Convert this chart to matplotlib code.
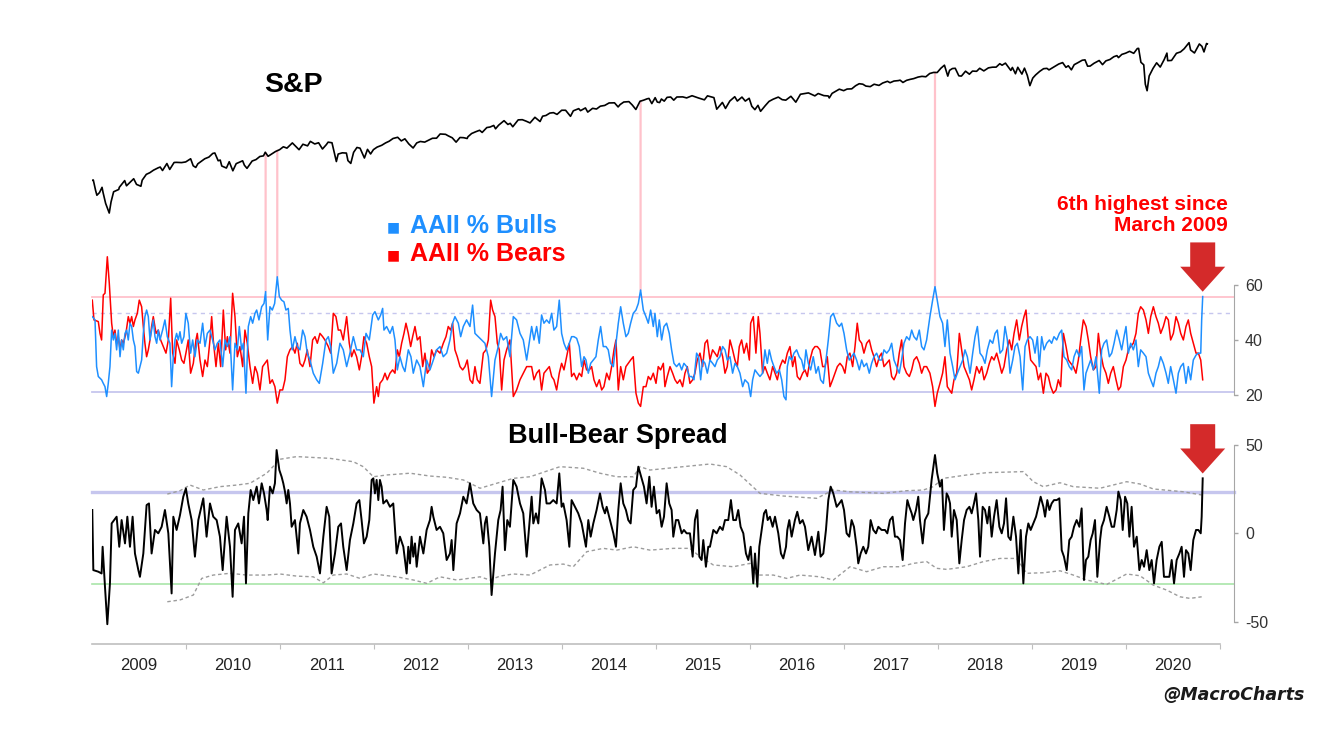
import numpy as np
import pandas as pd
import matplotlib
matplotlib.use('Agg')
import matplotlib.pyplot as plt
from matplotlib.patches import ConnectionPatch

# S&P 500 (date, close)
sp_pts = [
    ('2009-01-02', 931.8), ('2009-01-06', 934.7), ('2009-01-15', 843.7), ('2009-01-20', 805.2), ('2009-01-30', 825.9),
    ('2009-02-09', 869.9), ('2009-02-13', 826.8), ('2009-02-23', 743.3), ('2009-03-09', 676.5), ('2009-03-16', 753.9),
    ('2009-03-26', 832.9), ('2009-04-15', 852.1), ('2009-04-17', 869.6), ('2009-05-08', 929.2), ('2009-05-15', 882.9),
    ('2009-06-12', 946.2), ('2009-06-23', 895.1), ('2009-07-10', 879.1), ('2009-07-15', 932.7), ('2009-07-31', 987.5),
    ('2009-08-14', 1004.1), ('2009-08-28', 1028.9), ('2009-09-15', 1052.6), ('2009-09-23', 1060.9), ('2009-10-02', 1025.2),
    ('2009-10-19', 1097.9), ('2009-10-30', 1036.2), ('2009-11-16', 1109.3), ('2009-11-25', 1110.6), ('2009-12-15', 1107.9),
    ('2009-12-31', 1115.1), ('2010-01-19', 1150.2), ('2010-01-29', 1073.9), ('2010-02-08', 1056.7), ('2010-02-16', 1094.9),
    ('2010-03-15', 1150.5), ('2010-03-31', 1169.4), ('2010-04-15', 1211.7), ('2010-04-23', 1217.3), ('2010-05-06', 1128.2),
    ('2010-05-14', 1135.7), ('2010-05-20', 1071.6), ('2010-06-07', 1050.5), ('2010-06-18', 1117.5), ('2010-07-02', 1022.6),
    ('2010-07-15', 1096.5), ('2010-08-09', 1127.8), ('2010-08-16', 1079.4), ('2010-08-26', 1047.2), ('2010-09-15', 1125.1),
    ('2010-09-30', 1141.2), ('2010-10-15', 1176.2), ('2010-10-29', 1183.3), ('2010-11-05', 1225.9), ('2010-11-16', 1178.3),
    ('2010-12-15', 1235.2), ('2010-12-31', 1257.6), ('2011-01-14', 1293.2), ('2011-01-28', 1276.3), ('2011-02-18', 1343.0),
    ('2011-03-01', 1306.3), ('2011-03-16', 1256.9), ('2011-03-31', 1325.8), ('2011-04-18', 1305.1), ('2011-04-29', 1363.6),
    ('2011-05-16', 1329.5), ('2011-05-31', 1345.2), ('2011-06-15', 1265.4), ('2011-06-30', 1320.6), ('2011-07-07', 1353.2),
    ('2011-07-22', 1345.0), ('2011-08-08', 1119.5), ('2011-08-15', 1204.5), ('2011-08-31', 1219.0), ('2011-09-16', 1216.0),
    ('2011-09-22', 1129.6), ('2011-10-03', 1099.2), ('2011-10-14', 1224.6), ('2011-10-27', 1284.6), ('2011-11-08', 1275.9),
    ('2011-11-25', 1158.7), ('2011-12-07', 1261.0), ('2011-12-19', 1205.4), ('2011-12-30', 1257.6), ('2012-01-13', 1289.1),
    ('2012-01-31', 1312.4), ('2012-02-15', 1343.2), ('2012-02-29', 1365.7), ('2012-03-15', 1402.6), ('2012-04-02', 1419.0),
    ('2012-04-16', 1369.6), ('2012-04-30', 1397.9), ('2012-05-15', 1330.7), ('2012-06-01', 1278.0), ('2012-06-15', 1342.8),
    ('2012-06-29', 1362.2), ('2012-07-16', 1353.6), ('2012-07-31', 1379.3), ('2012-08-15', 1405.5), ('2012-08-31', 1406.6),
    ('2012-09-14', 1465.8), ('2012-10-05', 1460.9), ('2012-10-15', 1440.1), ('2012-10-31', 1412.2), ('2012-11-15', 1353.3),
    ('2012-11-30', 1416.2), ('2012-12-14', 1413.6), ('2012-12-28', 1402.4), ('2012-12-31', 1426.2), ('2013-01-15', 1472.3),
    ('2013-01-31', 1498.1), ('2013-02-15', 1519.8), ('2013-02-25', 1487.9), ('2013-03-15', 1560.7), ('2013-03-28', 1569.2),
    ('2013-04-11', 1593.4), ('2013-04-18', 1541.6), ('2013-04-30', 1597.6), ('2013-05-21', 1669.2), ('2013-06-05', 1608.9),
    ('2013-06-14', 1626.7), ('2013-06-24', 1573.1), ('2013-07-15', 1682.5), ('2013-07-31', 1685.7), ('2013-08-15', 1661.3),
    ('2013-08-30', 1633.0), ('2013-09-18', 1725.5), ('2013-10-08', 1655.5), ('2013-10-18', 1744.5), ('2013-10-31', 1756.5),
    ('2013-11-15', 1798.2), ('2013-11-29', 1805.8), ('2013-12-13', 1775.3), ('2013-12-31', 1848.4), ('2014-01-15', 1848.4),
    ('2014-02-03', 1741.9), ('2014-02-14', 1838.6), ('2014-03-07', 1878.0), ('2014-03-14', 1841.1), ('2014-04-02', 1890.9),
    ('2014-04-11', 1815.7), ('2014-04-30', 1883.9), ('2014-05-15', 1870.9), ('2014-05-30', 1923.6), ('2014-06-16', 1937.8),
    ('2014-07-03', 1985.4), ('2014-07-24', 1988.0), ('2014-08-07', 1909.6), ('2014-08-15', 1955.1), ('2014-08-29', 2003.4),
    ('2014-09-18', 2011.4), ('2014-10-01', 1946.2), ('2014-10-15', 1862.5), ('2014-10-31', 2018.1), ('2014-11-14', 2039.8),
    ('2014-11-28', 2067.6), ('2014-12-05', 2075.4), ('2014-12-16', 1972.7), ('2014-12-29', 2090.6), ('2015-01-06', 2002.6),
    ('2015-01-15', 1992.7), ('2015-01-22', 2063.2), ('2015-02-02', 2020.9), ('2015-02-13', 2096.9), ('2015-02-27', 2104.5),
    ('2015-03-11', 2040.2), ('2015-03-23', 2104.4), ('2015-04-15', 2106.6), ('2015-04-30', 2085.5), ('2015-05-21', 2130.8),
    ('2015-06-15', 2084.4), ('2015-07-08', 2046.7), ('2015-07-20', 2128.3), ('2015-08-14', 2091.5), ('2015-08-25', 1867.6),
    ('2015-09-16', 1995.3), ('2015-09-28', 1881.8), ('2015-10-15', 2023.9), ('2015-11-03', 2109.8), ('2015-11-13', 2023.0),
    ('2015-12-01', 2102.6), ('2015-12-14', 2021.9), ('2015-12-29', 2078.4), ('2016-01-08', 1922.0), ('2016-01-20', 1859.3),
    ('2016-02-01', 1939.4), ('2016-02-11', 1829.1), ('2016-02-29', 1932.2), ('2016-03-15', 2015.9), ('2016-03-31', 2059.7),
    ('2016-04-20', 2102.4), ('2016-05-05', 2050.6), ('2016-05-19', 2040.0), ('2016-06-08', 2119.1), ('2016-06-27', 2000.5),
    ('2016-07-15', 2161.7), ('2016-07-29', 2173.6), ('2016-08-15', 2190.2), ('2016-09-09', 2127.8), ('2016-09-22', 2177.2),
    ('2016-10-14', 2132.9), ('2016-10-31', 2126.2), ('2016-11-04', 2085.2), ('2016-11-15', 2180.4), ('2016-12-13', 2271.7),
    ('2016-12-30', 2238.8), ('2017-01-13', 2274.6), ('2017-01-31', 2278.9), ('2017-02-15', 2349.3), ('2017-03-01', 2396.0),
    ('2017-03-15', 2385.3), ('2017-03-27', 2341.6), ('2017-04-13', 2329.0), ('2017-04-28', 2384.2), ('2017-05-17', 2357.0),
    ('2017-05-31', 2411.8), ('2017-06-19', 2453.5), ('2017-06-29', 2419.7), ('2017-07-14', 2459.3), ('2017-07-31', 2470.3),
    ('2017-08-07', 2480.9), ('2017-08-18', 2425.6), ('2017-09-01', 2476.6), ('2017-09-15', 2500.2), ('2017-09-29', 2519.4),
    ('2017-10-16', 2557.6), ('2017-10-31', 2575.3), ('2017-11-15', 2564.6), ('2017-11-30', 2647.6), ('2017-12-15', 2675.8),
    ('2017-12-29', 2673.6), ('2018-01-12', 2786.2), ('2018-01-26', 2872.9), ('2018-02-08', 2581.0), ('2018-02-15', 2731.2),
    ('2018-02-26', 2779.6), ('2018-03-09', 2786.6), ('2018-03-23', 2588.3), ('2018-04-02', 2581.9), ('2018-04-18', 2708.6),
    ('2018-05-03', 2629.7), ('2018-05-15', 2711.5), ('2018-05-31', 2705.3), ('2018-06-12', 2786.9), ('2018-06-28', 2716.3),
    ('2018-07-16', 2798.4), ('2018-07-31', 2816.3), ('2018-08-15', 2818.4), ('2018-08-29', 2914.0), ('2018-09-07', 2871.7),
    ('2018-09-20', 2930.8), ('2018-10-11', 2728.4), ('2018-10-17', 2809.2), ('2018-10-29', 2641.3), ('2018-11-07', 2813.9),
    ('2018-11-23', 2632.6), ('2018-12-03', 2790.4), ('2018-12-14', 2600.0), ('2018-12-24', 2351.1), ('2019-01-04', 2531.9),
    ('2019-01-15', 2610.3), ('2019-01-31', 2704.1), ('2019-02-15', 2775.6), ('2019-02-28', 2784.5), ('2019-03-08', 2743.1),
    ('2019-03-22', 2800.7), ('2019-04-15', 2905.6), ('2019-04-30', 2945.8), ('2019-05-13', 2811.9), ('2019-05-22', 2856.3),
    ('2019-06-03', 2744.5), ('2019-06-14', 2886.9), ('2019-06-28', 2941.8), ('2019-07-15', 3014.3), ('2019-07-26', 3025.9),
    ('2019-08-05', 2844.7), ('2019-08-15', 2847.6), ('2019-08-30', 2926.5), ('2019-09-19', 3006.8), ('2019-10-02', 2887.6),
    ('2019-10-15', 2995.7), ('2019-10-31', 3037.6), ('2019-11-15', 3120.5), ('2019-11-27', 3153.6), ('2019-12-03', 3093.2),
    ('2019-12-16', 3191.5), ('2019-12-31', 3230.8), ('2020-01-15', 3289.3), ('2020-01-31', 3225.5), ('2020-02-14', 3380.2),
    ('2020-02-19', 3386.2), ('2020-02-28', 2954.2), ('2020-03-10', 2882.2), ('2020-03-16', 2386.1), ('2020-03-23', 2237.4),
    ('2020-03-31', 2584.6), ('2020-04-15', 2783.4), ('2020-04-29', 2939.5), ('2020-05-13', 2820.0), ('2020-05-29', 3044.3),
    ('2020-06-08', 3232.4), ('2020-06-11', 3002.1), ('2020-06-26', 3009.1), ('2020-07-15', 3226.6), ('2020-07-31', 3271.1),
    ('2020-08-14', 3372.9), ('2020-09-02', 3580.8), ('2020-09-08', 3331.8), ('2020-09-23', 3236.9), ('2020-10-12', 3534.2),
    ('2020-10-22', 3453.5), ('2020-10-30', 3270.0), ('2020-11-09', 3550.5), ('2020-11-12', 3537.0),
]

# AAII % Bulls (decimal year, %)
bulls_pts = [
    (2009.003, 48.5), (2009.032, 47.3), (2009.049, 30.3), (2009.067, 26.7), (2009.102, 25.5), (2009.120, 24.2),
    (2009.138, 23.0), (2009.156, 19.4), (2009.173, 24.2), (2009.191, 30.3), (2009.209, 43.6), (2009.227, 40.0),
    (2009.244, 42.4), (2009.262, 36.4), (2009.280, 43.6), (2009.298, 33.9), (2009.315, 40.0), (2009.333, 36.4),
    (2009.351, 42.4), (2009.369, 43.6), (2009.386, 40.0), (2009.404, 46.1), (2009.422, 44.9), (2009.440, 40.0),
    (2009.457, 37.6), (2009.475, 28.5), (2009.493, 27.9), (2009.510, 30.3), (2009.528, 32.7), (2009.546, 42.4),
    (2009.563, 48.5), (2009.581, 50.9), (2009.599, 48.5), (2009.617, 40.0), (2009.634, 43.6), (2009.652, 47.3),
    (2009.670, 41.2), (2009.688, 38.8), (2009.705, 43.6), (2009.723, 40.0), (2009.751, 43.6), (2009.776, 47.3),
    (2009.801, 41.2), (2009.829, 38.8), (2009.847, 23.0), (2009.865, 33.9), (2009.883, 40.0), (2009.900, 42.4),
    (2009.918, 40.0), (2009.936, 43.0), (2009.954, 38.8), (2009.978, 41.2), (2009.999, 49.7), (2010.024, 46.1),
    (2010.049, 35.2), (2010.071, 40.0), (2010.095, 33.9), (2010.120, 40.0), (2010.149, 38.8), (2010.177, 46.1),
    (2010.202, 37.6), (2010.227, 42.4), (2010.255, 43.6), (2010.283, 40.0), (2010.308, 36.4), (2010.333, 38.8),
    (2010.361, 40.0), (2010.390, 30.3), (2010.415, 40.0), (2010.440, 37.6), (2010.468, 41.2), (2010.496, 21.8),
    (2010.521, 38.8), (2010.546, 36.4), (2010.567, 44.9), (2010.592, 36.4), (2010.610, 38.8), (2010.638, 20.6),
    (2010.663, 44.9), (2010.688, 48.5), (2010.709, 46.1), (2010.734, 49.7), (2010.752, 50.9), (2010.776, 47.3),
    (2010.805, 52.1), (2010.830, 53.3), (2010.847, 57.6), (2010.869, 40.0), (2010.893, 52.1), (2010.918, 50.9),
    (2010.943, 53.3), (2010.971, 63.0), (2010.993, 55.8), (2011.017, 54.5), (2011.042, 53.9), (2011.063, 50.9),
    (2011.088, 51.5), (2011.106, 43.6), (2011.131, 36.4), (2011.159, 41.2), (2011.184, 37.6), (2011.212, 36.4),
    (2011.241, 43.6), (2011.266, 41.2), (2011.290, 35.2), (2011.319, 32.7), (2011.354, 27.9), (2011.390, 25.5),
    (2011.418, 24.2), (2011.454, 31.5), (2011.489, 40.0), (2011.514, 41.2), (2011.539, 37.6), (2011.567, 27.9),
    (2011.603, 31.5), (2011.638, 38.8), (2011.673, 36.4), (2011.709, 30.3), (2011.744, 35.2), (2011.780, 41.2),
    (2011.815, 36.4), (2011.851, 36.4), (2011.886, 33.9), (2011.915, 42.4), (2011.950, 40.0), (2011.986, 49.1),
    (2012.010, 50.3), (2012.046, 47.3), (2012.071, 49.1), (2012.092, 51.5), (2012.106, 43.6), (2012.134, 44.9),
    (2012.170, 42.4), (2012.198, 44.9), (2012.223, 40.0), (2012.248, 29.1), (2012.276, 33.9), (2012.305, 30.3),
    (2012.329, 28.5), (2012.365, 36.4), (2012.393, 33.9), (2012.418, 27.9), (2012.454, 32.7), (2012.489, 30.3),
    (2012.525, 23.0), (2012.560, 32.7), (2012.595, 29.1), (2012.631, 32.7), (2012.666, 36.4), (2012.702, 37.6),
    (2012.737, 33.9), (2012.773, 35.2), (2012.808, 40.0), (2012.836, 46.1), (2012.861, 48.5), (2012.897, 46.1),
    (2012.922, 41.2), (2012.950, 44.9), (2012.985, 47.3), (2013.021, 44.9), (2013.049, 52.7), (2013.074, 42.4),
    (2013.110, 41.2), (2013.145, 40.0), (2013.180, 38.8), (2013.216, 33.9), (2013.251, 19.4), (2013.287, 32.7),
    (2013.322, 37.6), (2013.347, 42.4), (2013.376, 40.0), (2013.411, 41.2), (2013.446, 33.9), (2013.482, 48.5),
    (2013.517, 47.3), (2013.553, 42.4), (2013.588, 40.0), (2013.624, 32.7), (2013.677, 44.9), (2013.702, 40.0),
    (2013.730, 44.9), (2013.758, 38.8), (2013.783, 49.1), (2013.808, 46.1), (2013.836, 47.3), (2013.865, 46.1),
    (2013.890, 49.7), (2013.914, 43.6), (2013.943, 44.9), (2013.971, 54.5), (2013.996, 42.4), (2014.021, 38.8),
    (2014.049, 36.4), (2014.078, 38.8), (2014.102, 41.2), (2014.127, 41.2), (2014.156, 40.6), (2014.184, 37.6),
    (2014.209, 30.3), (2014.234, 33.9), (2014.255, 32.7), (2014.280, 27.9), (2014.305, 31.5), (2014.333, 32.7),
    (2014.361, 33.9), (2014.386, 40.0), (2014.411, 44.9), (2014.439, 37.6), (2014.468, 37.6), (2014.492, 36.4),
    (2014.517, 31.5), (2014.546, 30.3), (2014.574, 38.8), (2014.599, 46.1), (2014.624, 52.1), (2014.652, 46.1),
    (2014.680, 41.2), (2014.705, 42.4), (2014.730, 46.1), (2014.758, 49.7), (2014.787, 50.9), (2014.812, 53.3),
    (2014.836, 58.2), (2014.865, 50.9), (2014.893, 48.5), (2014.918, 46.1), (2014.943, 50.9), (2014.971, 44.9),
    (2014.989, 49.7), (2015.014, 41.2), (2015.035, 47.3), (2015.060, 40.0), (2015.085, 44.9), (2015.113, 46.1),
    (2015.141, 42.4), (2015.166, 36.4), (2015.191, 31.5), (2015.219, 30.3), (2015.248, 31.5), (2015.273, 29.1),
    (2015.297, 31.5), (2015.326, 30.3), (2015.354, 26.7), (2015.379, 26.7), (2015.404, 25.5), (2015.432, 35.2),
    (2015.453, 33.9), (2015.475, 25.5), (2015.496, 32.7), (2015.521, 31.5), (2015.546, 27.9), (2015.574, 32.7),
    (2015.602, 31.5), (2015.627, 30.3), (2015.652, 32.7), (2015.680, 33.9), (2015.709, 37.6), (2015.734, 36.4),
    (2015.758, 32.7), (2015.787, 33.9), (2015.815, 27.9), (2015.840, 31.5), (2015.865, 30.3), (2015.893, 27.9),
    (2015.922, 23.0), (2015.946, 25.5), (2015.982, 24.2), (2016.007, 19.4), (2016.028, 25.5), (2016.053, 29.1),
    (2016.078, 27.9), (2016.106, 26.7), (2016.134, 27.9), (2016.159, 36.4), (2016.184, 31.5), (2016.205, 36.4),
    (2016.230, 32.7), (2016.255, 30.3), (2016.283, 27.9), (2016.312, 29.1), (2016.337, 25.5), (2016.361, 19.4),
    (2016.383, 18.2), (2016.397, 30.3), (2016.418, 33.9), (2016.443, 32.7), (2016.468, 35.2), (2016.496, 36.4),
    (2016.524, 33.9), (2016.549, 32.7), (2016.574, 29.1), (2016.595, 36.4), (2016.620, 31.5), (2016.645, 29.1),
    (2016.673, 33.9), (2016.702, 27.9), (2016.727, 30.3), (2016.751, 25.5), (2016.780, 24.2), (2016.808, 32.7),
    (2016.833, 40.0), (2016.858, 48.5), (2016.886, 49.7), (2016.922, 46.1), (2016.950, 44.9), (2016.975, 46.1),
    (2017.000, 42.4), (2017.028, 36.4), (2017.056, 32.7), (2017.081, 33.9), (2017.106, 35.2), (2017.134, 32.7),
    (2017.163, 29.1), (2017.188, 32.7), (2017.212, 30.3), (2017.241, 31.5), (2017.269, 27.9), (2017.294, 31.5),
    (2017.319, 33.9), (2017.347, 35.2), (2017.376, 32.7), (2017.400, 32.7), (2017.425, 36.4), (2017.454, 35.2),
    (2017.482, 36.4), (2017.507, 38.8), (2017.532, 32.7), (2017.560, 30.3), (2017.588, 27.9), (2017.613, 32.7),
    (2017.638, 38.8), (2017.666, 41.2), (2017.695, 40.0), (2017.720, 43.6), (2017.744, 41.2), (2017.773, 40.0),
    (2017.801, 43.6), (2017.826, 37.6), (2017.851, 36.4), (2017.879, 40.0), (2017.914, 48.5), (2017.943, 54.5),
    (2017.968, 59.4), (2017.992, 54.5), (2018.021, 48.5), (2018.049, 46.1), (2018.074, 37.6), (2018.099, 47.3),
    (2018.128, 35.2), (2018.156, 30.3), (2018.181, 25.5), (2018.206, 27.9), (2018.234, 30.3), (2018.263, 32.7),
    (2018.287, 36.4), (2018.312, 33.9), (2018.341, 27.9), (2018.369, 35.2), (2018.394, 41.2), (2018.419, 44.9),
    (2018.447, 35.2), (2018.475, 33.9), (2018.500, 31.5), (2018.525, 36.4), (2018.553, 40.0), (2018.582, 38.8),
    (2018.607, 42.4), (2018.631, 43.6), (2018.660, 35.2), (2018.688, 36.4), (2018.713, 44.9), (2018.738, 40.0),
    (2018.766, 27.9), (2018.795, 32.7), (2018.819, 37.6), (2018.844, 38.8), (2018.873, 33.9), (2018.901, 21.8),
    (2018.926, 37.6), (2018.950, 40.0), (2018.979, 41.2), (2019.007, 40.0), (2019.032, 35.2), (2019.057, 41.2),
    (2019.078, 30.3), (2019.103, 41.2), (2019.128, 36.4), (2019.156, 38.8), (2019.185, 40.0), (2019.209, 38.8),
    (2019.234, 41.2), (2019.263, 40.0), (2019.291, 42.4), (2019.316, 43.6), (2019.340, 33.9), (2019.369, 32.7),
    (2019.397, 30.3), (2019.422, 29.1), (2019.447, 33.9), (2019.475, 36.4), (2019.504, 33.9), (2019.528, 37.6),
    (2019.553, 21.8), (2019.574, 27.9), (2019.599, 30.3), (2019.624, 32.7), (2019.653, 29.1), (2019.681, 33.9),
    (2019.716, 20.6), (2019.741, 36.4), (2019.766, 38.8), (2019.794, 40.0), (2019.823, 33.9), (2019.848, 35.2),
    (2019.873, 38.8), (2019.901, 43.6), (2019.929, 40.0), (2019.954, 36.4), (2019.979, 41.2), (2020.000, 44.9),
    (2020.025, 35.2), (2020.050, 38.8), (2020.078, 36.4), (2020.106, 40.0), (2020.131, 30.3), (2020.156, 36.4),
    (2020.185, 35.2), (2020.213, 33.9), (2020.238, 27.9), (2020.263, 25.5), (2020.291, 23.0), (2020.319, 27.9),
    (2020.344, 30.3), (2020.369, 33.9), (2020.397, 31.5), (2020.426, 27.9), (2020.450, 24.2), (2020.475, 30.3),
    (2020.504, 25.5), (2020.532, 20.6), (2020.557, 27.9), (2020.582, 30.3), (2020.610, 31.5), (2020.638, 24.2),
    (2020.663, 30.3), (2020.688, 25.5), (2020.716, 32.7), (2020.745, 34.5), (2020.770, 35.2), (2020.795, 35.2),
    (2020.805, 47.3), (2020.816, 55.8),
]

# AAII % Bears (decimal year, %)
bears_pts = [
    (2009.003, 54.5), (2009.021, 47.3), (2009.067, 46.7), (2009.085, 42.4), (2009.102, 40.0), (2009.120, 56.4),
    (2009.138, 57.0), (2009.163, 70.3), (2009.184, 60.6), (2009.198, 52.1), (2009.209, 46.1), (2009.227, 41.2),
    (2009.244, 43.6), (2009.262, 38.8), (2009.280, 41.2), (2009.298, 36.4), (2009.315, 40.0), (2009.333, 38.8),
    (2009.361, 42.4), (2009.386, 48.5), (2009.404, 46.1), (2009.422, 48.5), (2009.440, 44.9), (2009.457, 47.3),
    (2009.482, 49.7), (2009.503, 54.5), (2009.528, 52.1), (2009.546, 44.9), (2009.563, 38.8), (2009.581, 33.9),
    (2009.599, 36.4), (2009.617, 40.0), (2009.634, 44.9), (2009.652, 48.5), (2009.681, 42.4), (2009.705, 43.6),
    (2009.730, 40.0), (2009.759, 37.6), (2009.787, 35.2), (2009.812, 40.0), (2009.837, 55.2), (2009.858, 35.2),
    (2009.883, 31.5), (2009.900, 40.0), (2009.929, 36.4), (2009.954, 32.7), (2009.978, 31.5), (2009.999, 35.2),
    (2010.024, 40.0), (2010.049, 27.9), (2010.078, 31.5), (2010.106, 40.0), (2010.120, 42.4), (2010.149, 32.7),
    (2010.177, 26.7), (2010.202, 32.7), (2010.227, 30.3), (2010.255, 40.0), (2010.273, 48.5), (2010.290, 40.0),
    (2010.319, 30.3), (2010.344, 38.8), (2010.369, 30.3), (2010.397, 50.9), (2010.422, 36.4), (2010.440, 41.2),
    (2010.468, 35.2), (2010.496, 57.0), (2010.521, 48.5), (2010.546, 33.9), (2010.574, 37.6), (2010.603, 30.3),
    (2010.627, 43.6), (2010.652, 38.8), (2010.681, 30.3), (2010.709, 24.2), (2010.734, 30.3), (2010.759, 27.9),
    (2010.787, 21.8), (2010.815, 30.3), (2010.840, 31.5), (2010.865, 32.7), (2010.893, 24.2), (2010.918, 25.5),
    (2010.946, 23.0), (2010.971, 17.0), (2010.999, 21.8), (2011.028, 21.8), (2011.053, 25.5), (2011.078, 33.9),
    (2011.106, 36.4), (2011.134, 37.6), (2011.159, 35.2), (2011.184, 38.8), (2011.212, 31.5), (2011.241, 30.3),
    (2011.266, 32.7), (2011.290, 36.4), (2011.319, 30.3), (2011.347, 40.0), (2011.372, 41.2), (2011.397, 38.8),
    (2011.425, 42.4), (2011.454, 41.2), (2011.478, 40.0), (2011.514, 37.6), (2011.539, 35.2), (2011.567, 49.7),
    (2011.595, 48.5), (2011.620, 43.6), (2011.645, 43.6), (2011.673, 40.0), (2011.709, 48.5), (2011.737, 38.8),
    (2011.762, 33.9), (2011.787, 36.4), (2011.815, 33.9), (2011.844, 29.1), (2011.868, 33.9), (2011.893, 41.2),
    (2011.922, 38.8), (2011.950, 33.9), (2011.975, 30.3), (2011.999, 17.0), (2012.028, 23.0), (2012.046, 19.4),
    (2012.063, 24.2), (2012.092, 25.5), (2012.117, 27.9), (2012.141, 25.5), (2012.170, 27.9), (2012.198, 29.1),
    (2012.223, 27.9), (2012.248, 36.4), (2012.269, 33.9), (2012.294, 38.8), (2012.319, 42.4), (2012.340, 46.1),
    (2012.365, 42.4), (2012.390, 37.6), (2012.411, 41.2), (2012.436, 44.9), (2012.461, 40.0), (2012.489, 41.2),
    (2012.518, 30.3), (2012.542, 35.2), (2012.567, 27.9), (2012.588, 29.1), (2012.613, 36.4), (2012.638, 33.9),
    (2012.666, 36.4), (2012.702, 35.2), (2012.737, 38.8), (2012.766, 41.2), (2012.790, 44.9), (2012.815, 43.6),
    (2012.836, 46.1), (2012.861, 36.4), (2012.886, 33.9), (2012.915, 30.3), (2012.943, 29.1), (2012.968, 30.3),
    (2012.992, 32.7), (2013.021, 25.5), (2013.049, 24.2), (2013.074, 30.3), (2013.099, 25.5), (2013.127, 24.2),
    (2013.163, 35.2), (2013.191, 36.4), (2013.216, 40.0), (2013.241, 54.5), (2013.262, 50.9), (2013.287, 48.5),
    (2013.312, 38.8), (2013.333, 36.4), (2013.358, 21.8), (2013.383, 32.7), (2013.411, 36.4), (2013.446, 40.0),
    (2013.482, 19.4), (2013.517, 21.8), (2013.553, 25.5), (2013.588, 27.9), (2013.624, 30.3), (2013.677, 30.3),
    (2013.702, 25.5), (2013.730, 27.9), (2013.758, 29.1), (2013.783, 21.8), (2013.808, 27.9), (2013.836, 29.1),
    (2013.865, 30.3), (2013.890, 26.7), (2013.914, 25.5), (2013.943, 21.8), (2013.971, 27.9), (2013.996, 31.5),
    (2014.021, 29.1), (2014.049, 33.9), (2014.078, 38.8), (2014.102, 26.7), (2014.127, 27.9), (2014.156, 25.5),
    (2014.184, 27.9), (2014.209, 26.7), (2014.234, 32.7), (2014.262, 29.1), (2014.291, 29.1), (2014.315, 30.3),
    (2014.340, 25.5), (2014.368, 23.0), (2014.397, 25.5), (2014.422, 21.8), (2014.446, 23.0), (2014.475, 27.9),
    (2014.503, 25.5), (2014.528, 30.3), (2014.553, 36.4), (2014.574, 40.0), (2014.599, 21.8), (2014.624, 30.3),
    (2014.652, 25.5), (2014.680, 30.3), (2014.705, 31.5), (2014.730, 32.7), (2014.758, 33.9), (2014.787, 20.6),
    (2014.812, 17.0), (2014.836, 15.8), (2014.865, 23.0), (2014.893, 23.0), (2014.918, 26.7), (2014.943, 25.5),
    (2014.971, 27.9), (2015.000, 24.2), (2015.024, 30.3), (2015.049, 29.1), (2015.078, 31.5), (2015.095, 23.0),
    (2015.120, 26.7), (2015.149, 30.3), (2015.177, 27.9), (2015.202, 25.5), (2015.227, 24.2), (2015.255, 25.5),
    (2015.283, 23.0), (2015.308, 27.9), (2015.333, 30.3), (2015.361, 24.2), (2015.390, 25.5), (2015.414, 27.9),
    (2015.439, 32.7), (2015.468, 35.2), (2015.496, 30.3), (2015.521, 38.8), (2015.546, 40.0), (2015.574, 32.7),
    (2015.602, 36.4), (2015.627, 35.2), (2015.652, 33.9), (2015.680, 37.6), (2015.709, 33.9), (2015.734, 27.9),
    (2015.758, 30.3), (2015.787, 40.0), (2015.815, 36.4), (2015.840, 32.7), (2015.865, 30.3), (2015.886, 37.6),
    (2015.911, 40.0), (2015.936, 35.2), (2015.964, 38.8), (2015.993, 32.7), (2016.007, 46.1), (2016.035, 48.5),
    (2016.063, 35.2), (2016.088, 48.5), (2016.106, 42.4), (2016.134, 27.9), (2016.159, 30.3), (2016.184, 27.9),
    (2016.212, 25.5), (2016.241, 30.3), (2016.266, 27.9), (2016.291, 25.5), (2016.319, 30.3), (2016.347, 32.7),
    (2016.372, 31.5), (2016.397, 35.2), (2016.425, 37.6), (2016.454, 30.3), (2016.478, 33.9), (2016.503, 26.7),
    (2016.531, 25.5), (2016.560, 27.9), (2016.585, 29.1), (2016.610, 26.7), (2016.638, 32.7), (2016.666, 36.4),
    (2016.691, 37.6), (2016.716, 37.6), (2016.744, 36.4), (2016.773, 30.3), (2016.797, 30.3), (2016.822, 33.9),
    (2016.851, 23.0), (2016.879, 25.5), (2016.904, 27.9), (2016.929, 30.3), (2016.957, 31.5), (2016.985, 30.3),
    (2017.010, 27.9), (2017.035, 33.9), (2017.063, 35.2), (2017.092, 30.3), (2017.117, 37.6), (2017.141, 46.1),
    (2017.163, 40.0), (2017.188, 38.8), (2017.212, 35.2), (2017.241, 38.8), (2017.269, 40.0), (2017.294, 36.4),
    (2017.319, 33.9), (2017.347, 30.3), (2017.376, 33.9), (2017.400, 35.2), (2017.425, 30.3), (2017.454, 31.5),
    (2017.482, 32.7), (2017.507, 26.7), (2017.532, 25.5), (2017.560, 27.9), (2017.588, 35.2), (2017.613, 40.0),
    (2017.638, 30.3), (2017.666, 27.9), (2017.695, 26.7), (2017.720, 29.1), (2017.744, 32.7), (2017.773, 33.9),
    (2017.801, 31.5), (2017.826, 27.9), (2017.851, 30.3), (2017.879, 30.3), (2017.914, 27.9), (2017.943, 23.0),
    (2017.968, 15.8), (2017.992, 20.6), (2018.021, 24.2), (2018.049, 27.9), (2018.074, 33.9), (2018.099, 23.0),
    (2018.146, 20.6), (2018.170, 25.5), (2018.199, 27.9), (2018.227, 42.4), (2018.252, 36.4), (2018.277, 30.3),
    (2018.305, 27.9), (2018.334, 25.5), (2018.358, 21.8), (2018.383, 25.5), (2018.411, 30.3), (2018.440, 27.9),
    (2018.465, 30.3), (2018.490, 25.5), (2018.518, 27.9), (2018.546, 31.5), (2018.571, 33.9), (2018.596, 32.7),
    (2018.624, 35.2), (2018.653, 31.5), (2018.678, 27.9), (2018.702, 30.3), (2018.731, 36.4), (2018.759, 40.0),
    (2018.784, 36.4), (2018.809, 42.4), (2018.837, 47.3), (2018.865, 40.0), (2018.890, 44.9), (2018.915, 48.5),
    (2018.936, 50.9), (2018.961, 40.0), (2018.986, 32.7), (2019.014, 31.5), (2019.043, 30.3), (2019.068, 25.5),
    (2019.092, 27.9), (2019.121, 20.6), (2019.149, 27.9), (2019.174, 26.7), (2019.199, 23.0), (2019.227, 20.6),
    (2019.256, 21.8), (2019.280, 25.5), (2019.305, 23.0), (2019.334, 42.4), (2019.362, 37.6), (2019.387, 32.7),
    (2019.412, 31.5), (2019.440, 30.3), (2019.468, 27.9), (2019.493, 32.7), (2019.518, 40.0), (2019.546, 47.3),
    (2019.575, 44.9), (2019.599, 40.0), (2019.624, 33.9), (2019.653, 29.1), (2019.681, 30.3), (2019.706, 42.4),
    (2019.731, 35.2), (2019.759, 30.3), (2019.787, 27.9), (2019.812, 24.2), (2019.837, 27.9), (2019.865, 30.3),
    (2019.894, 25.5), (2019.919, 21.8), (2019.943, 23.0), (2019.972, 30.3), (2020.000, 32.7), (2020.025, 36.4),
    (2020.050, 37.6), (2020.078, 38.8), (2020.106, 42.4), (2020.131, 49.7), (2020.156, 52.1), (2020.185, 50.9),
    (2020.213, 47.3), (2020.238, 42.4), (2020.263, 48.5), (2020.291, 52.1), (2020.319, 48.5), (2020.344, 46.1),
    (2020.369, 42.4), (2020.397, 44.9), (2020.426, 48.5), (2020.450, 47.3), (2020.475, 40.0), (2020.504, 42.4),
    (2020.532, 48.5), (2020.557, 46.1), (2020.582, 42.4), (2020.610, 40.0), (2020.638, 44.9), (2020.663, 47.3),
    (2020.688, 42.4), (2020.716, 38.8), (2020.745, 35.2), (2020.770, 35.2), (2020.795, 32.7), (2020.816, 25.5),
]

# Bull-Bear spread (decimal year, points)
spread_pts = [
    (2009.003, 13.2), (2009.014, -20.8), (2009.067, -21.7), (2009.102, -22.7), (2009.113, -7.6), (2009.138, -30.2),
    (2009.163, -51.4), (2009.191, -28.3), (2009.209, 5.6), (2009.262, 9.4), (2009.290, -7.6), (2009.315, 7.5),
    (2009.351, -5.7), (2009.376, 9.4), (2009.404, -7.6), (2009.432, 9.4), (2009.457, -11.4), (2009.493, -20.8),
    (2009.510, -24.6), (2009.546, -11.4), (2009.581, 16.0), (2009.606, 16.9), (2009.634, -11.4), (2009.670, 1.9),
    (2009.705, 0.0), (2009.741, 3.7), (2009.776, 13.2), (2009.812, 0.0), (2009.847, -34.0), (2009.865, 9.4),
    (2009.900, 1.9), (2009.936, 10.3), (2009.971, 20.7), (2009.999, 25.4), (2010.024, 16.9), (2010.060, 7.5),
    (2010.095, -13.2), (2010.131, 7.5), (2010.184, 19.8), (2010.219, -1.9), (2010.255, 16.9), (2010.290, 9.4),
    (2010.326, 7.5), (2010.361, -1.9), (2010.390, -20.8), (2010.432, 9.4), (2010.468, -7.6), (2010.496, -35.9),
    (2010.521, 1.9), (2010.556, 5.6), (2010.592, -5.7), (2010.617, 9.4), (2010.638, -28.3), (2010.663, 11.3),
    (2010.688, 24.5), (2010.716, 18.8), (2010.752, 26.4), (2010.776, 16.9), (2010.805, 28.3), (2010.830, 22.6),
    (2010.858, 13.2), (2010.869, 7.5), (2010.893, 26.4), (2010.922, 22.6), (2010.946, 28.3), (2010.964, 47.1),
    (2010.993, 35.8), (2011.017, 32.0), (2011.035, 28.3), (2011.053, 23.6), (2011.071, 16.9), (2011.088, 24.5),
    (2011.106, 16.9), (2011.124, 3.7), (2011.159, 7.5), (2011.195, -11.4), (2011.212, 5.6), (2011.248, 13.2),
    (2011.283, 9.4), (2011.319, 1.9), (2011.354, -7.6), (2011.390, -13.2), (2011.425, -22.7), (2011.461, -1.9),
    (2011.496, 15.0), (2011.524, 9.4), (2011.549, -22.7), (2011.585, -11.4), (2011.620, 3.7), (2011.649, 5.6),
    (2011.673, -7.6), (2011.709, -20.8), (2011.744, -3.8), (2011.780, 5.6), (2011.815, 16.9), (2011.844, 18.8),
    (2011.868, 7.5), (2011.893, -5.7), (2011.922, -1.9), (2011.950, 7.5), (2011.975, 30.2), (2011.993, 31.1),
    (2012.010, 22.6), (2012.028, 30.2), (2012.046, 18.8), (2012.063, 30.2), (2012.081, 26.4), (2012.099, 16.9),
    (2012.134, 18.8), (2012.170, 15.0), (2012.205, 16.9), (2012.241, -11.4), (2012.276, -1.9), (2012.312, -7.6),
    (2012.347, -22.7), (2012.365, -7.6), (2012.383, -17.0), (2012.400, -1.9), (2012.418, -13.2), (2012.436, -5.7),
    (2012.454, -18.9), (2012.489, -1.9), (2012.525, -11.4), (2012.560, 1.9), (2012.595, 7.5), (2012.613, 15.0),
    (2012.631, 9.4), (2012.666, 1.9), (2012.702, 3.7), (2012.737, 0.0), (2012.773, -15.1), (2012.808, -11.4),
    (2012.826, -3.8), (2012.844, -20.8), (2012.879, 5.6), (2012.915, 11.3), (2012.950, 20.7), (2012.985, 16.9),
    (2013.021, 28.3), (2013.056, 16.9), (2013.092, 13.2), (2013.127, 11.3), (2013.163, -5.7), (2013.180, 5.6),
    (2013.198, 9.4), (2013.227, -7.6), (2013.251, -34.9), (2013.287, -11.4), (2013.322, 7.5), (2013.347, 13.2),
    (2013.368, 26.4), (2013.393, -9.5), (2013.418, 7.5), (2013.446, 3.7), (2013.482, 30.2), (2013.517, 26.4),
    (2013.553, 16.9), (2013.588, 11.3), (2013.624, -13.2), (2013.677, 20.7), (2013.695, 5.6), (2013.723, 11.3),
    (2013.748, 5.6), (2013.783, 31.1), (2013.819, 24.5), (2013.836, 16.9), (2013.872, 16.9), (2013.907, 18.8),
    (2013.943, 16.9), (2013.971, 33.9), (2013.996, 15.0), (2014.014, 16.9), (2014.049, 7.5), (2014.078, -7.6),
    (2014.102, 18.8), (2014.138, 15.0), (2014.173, 11.3), (2014.209, 5.6), (2014.255, -7.6), (2014.280, 7.5),
    (2014.305, -1.9), (2014.333, 5.6), (2014.368, 13.2), (2014.404, 22.6), (2014.432, 15.0), (2014.457, 11.3),
    (2014.475, 15.0), (2014.510, 7.5), (2014.546, 0.0), (2014.574, -7.6), (2014.599, 13.2), (2014.624, 28.3),
    (2014.652, 16.9), (2014.680, 13.2), (2014.705, 7.5), (2014.730, 5.6), (2014.758, 24.5), (2014.787, 26.4),
    (2014.812, 37.7), (2014.847, 31.1), (2014.872, 26.4), (2014.900, 16.9), (2014.929, 32.0), (2014.953, 15.0),
    (2014.978, 26.4), (2015.007, 11.3), (2015.035, 13.2), (2015.060, 3.7), (2015.085, 9.4), (2015.113, 28.3),
    (2015.141, 16.9), (2015.166, 13.2), (2015.184, -1.9), (2015.212, 7.5), (2015.237, 7.5), (2015.273, 0.0),
    (2015.297, 1.9), (2015.326, 0.0), (2015.361, 0.0), (2015.390, -13.2), (2015.414, 7.5), (2015.439, 13.2),
    (2015.461, -13.2), (2015.485, -15.1), (2015.503, -3.8), (2015.531, -18.9), (2015.556, -7.6), (2015.574, -7.6),
    (2015.610, 1.9), (2015.645, 0.0), (2015.680, 3.7), (2015.709, 1.9), (2015.734, 7.5), (2015.769, 7.5),
    (2015.797, 18.8), (2015.822, 7.5), (2015.851, 7.5), (2015.875, 13.2), (2015.900, 3.7), (2015.929, 0.0),
    (2015.957, -11.4), (2015.982, -15.1), (2016.007, -7.6), (2016.035, -28.3), (2016.053, -11.4), (2016.078, -30.2),
    (2016.099, -7.6), (2016.124, 1.9), (2016.149, 11.3), (2016.170, 13.2), (2016.188, 7.5), (2016.212, 9.4),
    (2016.241, 3.7), (2016.266, 9.4), (2016.301, 0.0), (2016.329, -11.4), (2016.354, -14.2), (2016.383, -7.6),
    (2016.397, 1.9), (2016.418, 7.5), (2016.443, -1.9), (2016.478, 7.5), (2016.503, 12.2), (2016.531, 5.6),
    (2016.560, 7.5), (2016.585, 3.7), (2016.620, -9.5), (2016.656, -1.9), (2016.691, -12.3), (2016.727, 0.9),
    (2016.751, -13.2), (2016.780, -11.4), (2016.808, 1.9), (2016.833, 18.8), (2016.858, 26.4), (2016.886, 22.6),
    (2016.922, 15.0), (2016.950, 16.9), (2016.975, 18.8), (2017.000, 13.2), (2017.028, 0.0), (2017.056, -1.9),
    (2017.081, 7.5), (2017.106, 3.7), (2017.134, -7.6), (2017.152, -17.0), (2017.177, -11.4), (2017.205, -7.6),
    (2017.234, -11.4), (2017.258, -7.6), (2017.283, 7.5), (2017.312, 1.9), (2017.340, 0.0), (2017.365, 3.7),
    (2017.400, 1.9), (2017.436, 1.9), (2017.461, 0.0), (2017.489, 7.5), (2017.517, 9.4), (2017.542, -1.9),
    (2017.567, -1.9), (2017.596, -3.8), (2017.624, -15.1), (2017.649, 5.6), (2017.674, 18.8), (2017.695, 15.0),
    (2017.720, 11.3), (2017.737, 7.5), (2017.766, 13.2), (2017.790, 20.7), (2017.808, 7.5), (2017.837, -5.7),
    (2017.861, 7.5), (2017.897, 11.3), (2017.932, 30.2), (2017.968, 44.3), (2017.992, 33.9), (2018.021, 26.4),
    (2018.042, 30.2), (2018.063, 1.9), (2018.092, 22.6), (2018.110, 20.7), (2018.128, 16.9), (2018.146, -1.9),
    (2018.170, 13.2), (2018.199, 7.5), (2018.227, -17.0), (2018.252, -3.8), (2018.277, 7.5), (2018.305, 13.2),
    (2018.334, 15.0), (2018.358, 11.3), (2018.383, 16.9), (2018.405, 22.6), (2018.429, 7.5), (2018.447, -13.2),
    (2018.475, 15.0), (2018.500, 13.2), (2018.525, 5.6), (2018.546, 15.0), (2018.571, -1.9), (2018.596, 9.4),
    (2018.624, 18.8), (2018.653, 3.7), (2018.678, 0.0), (2018.702, 5.6), (2018.724, 19.8), (2018.748, -1.9),
    (2018.773, -3.8), (2018.802, 9.4), (2018.830, -1.9), (2018.855, -22.7), (2018.880, 1.9), (2018.908, -28.3),
    (2018.936, -1.9), (2018.961, 5.6), (2018.986, 1.9), (2019.014, 5.6), (2019.043, 9.4), (2019.068, 15.0),
    (2019.092, 20.7), (2019.121, 15.0), (2019.139, 9.4), (2019.163, 18.8), (2019.185, 13.2), (2019.209, 16.9),
    (2019.234, 18.8), (2019.263, 18.8), (2019.291, 19.8), (2019.316, -9.5), (2019.340, -13.2), (2019.369, -20.8),
    (2019.397, -3.8), (2019.422, -1.9), (2019.447, 3.7), (2019.475, 7.5), (2019.504, 3.7), (2019.528, 14.1),
    (2019.553, -26.4), (2019.574, -15.1), (2019.599, -13.2), (2019.624, -3.8), (2019.646, 0.0), (2019.670, 7.5),
    (2019.695, -24.6), (2019.724, -3.8), (2019.741, 3.7), (2019.766, 7.5), (2019.794, 15.0), (2019.823, 9.4),
    (2019.848, 3.7), (2019.873, 3.7), (2019.901, 13.2), (2019.919, 23.6), (2019.944, 18.8), (2019.965, 1.9),
    (2019.990, 20.7), (2020.014, 16.9), (2020.036, -1.9), (2020.060, 15.0), (2020.085, -7.6), (2020.114, -1.9),
    (2020.142, -20.8), (2020.167, -15.1), (2020.192, -18.9), (2020.220, -9.5), (2020.248, -20.8), (2020.273, -15.1),
    (2020.298, -28.3), (2020.326, -15.1), (2020.355, -7.6), (2020.380, -4.8), (2020.404, -24.6), (2020.433, -24.6),
    (2020.461, -24.6), (2020.486, -15.1), (2020.511, -28.3), (2020.539, -15.1), (2020.568, -11.4), (2020.592, -7.6),
    (2020.617, -24.6), (2020.638, -9.5), (2020.663, -11.4), (2020.688, -20.8), (2020.716, -3.8), (2020.745, 1.9),
    (2020.770, 1.9), (2020.795, 0.0), (2020.805, 9.4), (2020.816, 31.1),
]

# spread bands (dotted grey)
band_up_pts = [
    (2009.801, 22.2), (2009.936, 24.1), (2010.043, 27.3), (2010.184, 24.5), (2010.362, 26.4), (2010.539, 27.3),
    (2010.681, 28.3), (2010.859, 34.0), (2011.000, 41.9), (2011.178, 43.4), (2011.532, 42.4), (2011.780, 40.5),
    (2011.886, 37.7), (2011.993, 32.0), (2012.135, 33.0), (2012.383, 34.0), (2012.596, 32.4), (2012.773, 31.7),
    (2012.950, 30.2), (2013.128, 25.5), (2013.305, 28.3), (2013.482, 31.1), (2013.660, 32.0), (2013.872, 35.8),
    (2013.979, 37.7), (2014.227, 36.8), (2014.404, 34.0), (2014.582, 32.0), (2014.759, 32.0), (2014.830, 37.7),
    (2014.936, 35.8), (2015.290, 37.7), (2015.574, 39.2), (2015.752, 37.7), (2015.894, 33.0), (2016.106, 22.6),
    (2016.354, 21.1), (2016.710, 19.8), (2016.886, 24.5), (2017.064, 23.5), (2017.418, 22.6), (2017.667, 24.1),
    (2017.844, 24.5), (2017.950, 26.4), (2018.056, 31.1), (2018.305, 33.0), (2018.518, 34.3), (2018.907, 34.9),
    (2019.014, 29.2), (2019.120, 26.4), (2019.298, 28.6), (2019.439, 26.4), (2019.723, 25.5), (2020.007, 29.2),
    (2020.149, 27.9), (2020.290, 25.1), (2020.610, 23.5), (2020.805, 21.7),
]
band_lo_pts = [
    (2009.801, -38.7), (2009.936, -37.7), (2010.078, -34.9), (2010.167, -25.5), (2010.290, -23.6), (2010.468, -22.6),
    (2010.646, -23.6), (2010.859, -23.6), (2011.000, -23.0), (2011.178, -24.2), (2011.354, -24.6), (2011.461, -28.0),
    (2011.567, -23.6), (2011.710, -23.0), (2011.851, -25.5), (2011.993, -23.0), (2012.241, -24.6), (2012.418, -26.4),
    (2012.561, -28.3), (2012.702, -24.6), (2012.880, -26.4), (2013.128, -24.6), (2013.234, -26.4), (2013.340, -24.2),
    (2013.482, -23.0), (2013.660, -23.6), (2013.872, -17.9), (2014.014, -17.4), (2014.120, -18.9), (2014.263, -10.4),
    (2014.439, -8.5), (2014.582, -9.5), (2014.759, -7.6), (2014.936, -9.5), (2015.184, -8.5), (2015.362, -8.5),
    (2015.468, -13.2), (2015.610, -17.9), (2015.822, -18.9), (2016.000, -17.0), (2016.071, -23.6), (2016.248, -23.6),
    (2016.390, -25.5), (2016.532, -23.6), (2016.745, -24.6), (2016.886, -26.4), (2017.064, -18.9), (2017.241, -21.7),
    (2017.418, -18.9), (2017.596, -18.9), (2017.737, -17.0), (2017.880, -16.0), (2017.986, -19.8), (2018.093, -20.4),
    (2018.305, -18.9), (2018.482, -16.0), (2018.660, -14.2), (2018.837, -14.2), (2018.943, -22.6), (2019.120, -22.3),
    (2019.298, -21.2), (2019.439, -23.6), (2019.582, -26.4), (2019.795, -28.9), (2020.007, -23.0), (2020.149, -24.0),
    (2020.290, -29.3), (2020.433, -32.1), (2020.574, -35.9), (2020.681, -36.8), (2020.805, -35.9),
]

# reference levels
bulls_dash = 49.7
bulls_low = 21.2
spread_high = 23.5
spread_low = -28.9
# extreme bullish weeks linked to the S&P
peak_dates = [2010.847, 2010.971, 2014.836, 2017.968]
years = list(range(2009, 2021))

sp_df = pd.DataFrame(sp_pts, columns=['date', 'close'])
sp_df['date'] = pd.to_datetime(sp_df['date'])
sp_df = sp_df.sort_values('date')
sp_t = (sp_df['date'].dt.year + (sp_df['date'].dt.dayofyear - 1) / 365.25).to_numpy()
sp_v = sp_df['close'].to_numpy()
bulls_t, bulls_v = np.array(bulls_pts).T
bears_t, bears_v = np.array(bears_pts).T
spread_t, spread_v = np.array(spread_pts).T
up_t, up_v = np.array(band_up_pts).T
lo_t, lo_v = np.array(band_lo_pts).T

plt.rcParams['font.family'] = ['Liberation Sans', 'DejaVu Sans']
plt.rcParams['axes.unicode_minus'] = False

BLUE = '#1e8fff'
RED = '#ff0000'
PINK = '#ffc2cb'
LAV = '#c6c6ee'
W, H = 1331, 744
fig = plt.figure(figsize=(W / 100, H / 100), dpi=100)


def box(left, top, right, bottom):
    return [left / W, 1 - bottom / H, (right - left) / W, (bottom - top) / H]


ax_sp = fig.add_axes(box(92, 30, 1220, 220))
ax_aa = fig.add_axes(box(92, 240, 1220, 410))
ax_bb = fig.add_axes(box(92, 420, 1220, 644))
for ax in (ax_sp, ax_aa, ax_bb):
    ax.patch.set_visible(False)
    ax.set_xlim(2009, 2021)
    for s in ('top', 'left'):
        ax.spines[s].set_visible(False)

# S&P
ax_sp.plot(sp_t, sp_v, color='black', lw=1.2)
ax_sp.set_yscale('log')
ax_sp.set_ylim(632, 4052)
ax_sp.axis('off')

# AAII bulls / bears
ax_aa.plot(bears_t, bears_v, color=RED, lw=1.1)
ax_aa.plot(bulls_t, bulls_v, color=BLUE, lw=1.1)
xr = (1234 - 92) / (1220 - 92)
ax_aa.axhline(bulls_v[-1], xmax=xr, color=PINK, lw=1.3, clip_on=False, zorder=0)
ax_aa.axhline(bulls_dash, xmax=xr, color=LAV, lw=1.0, ls=(0, (3, 3)), clip_on=False, zorder=0)
ax_aa.axhline(bulls_low, xmax=xr, color=LAV, lw=1.3, clip_on=False, zorder=0)
ax_aa.set_ylim(14.5, 76.4)
ax_aa.spines['bottom'].set_visible(False)
ax_aa.set_xticks([])

# spread
ax_bb.plot(up_t, up_v, color='#9c9c9c', lw=1.0, ls=(0, (2.5, 2)))
ax_bb.plot(lo_t, lo_v, color='#9c9c9c', lw=1.0, ls=(0, (2.5, 2)))
ax_bb.axhline(spread_high, xmax=xr, color=LAV, lw=2.4, clip_on=False, zorder=0)
ax_bb.axhline(spread_low, xmax=xr, color='#a9e5a9', lw=1.2, clip_on=False, zorder=0)
ax_bb.plot(spread_t, spread_v, color='black', lw=1.4)
ax_bb.set_ylim(-62.6, 64.1)

for ax, lo, hi, ticks in ((ax_aa, 20, 60, [20, 40, 60]), (ax_bb, -50, 50, [-50, 0, 50])):
    sp = ax.spines['right']
    sp.set_position(('outward', 10))
    sp.set_bounds(lo, hi)
    sp.set_color('#a6a6a6')
    ax.yaxis.tick_right()
    ax.set_yticks(ticks)
    ax.set_yticklabels([str(t) for t in ticks])
    ax.tick_params(axis='y', direction='out', length=3, width=1, color='#a6a6a6',
                   labelsize=11.5, labelcolor='#333333', pad=5)

ax_bb.spines['bottom'].set_color('#bfbfbf')
ax_bb.spines['bottom'].set_linewidth(1.2)
ax_bb.set_xticks([y + 1 for y in years])
ax_bb.set_xticklabels([])
ax_bb.set_xticks([y + 0.5 for y in years], minor=True)
ax_bb.set_xticklabels([str(y) for y in years], minor=True)
ax_bb.tick_params(axis='x', which='major', direction='out', length=3.6, color='#bfbfbf')
ax_bb.tick_params(axis='x', which='minor', length=0, pad=10, labelsize=12, labelcolor='#222222')

# links between extreme bullish readings and the S&P
for d in peak_dates:
    con = ConnectionPatch(xyA=(d, np.interp(d, sp_t, sp_v)), coordsA=ax_sp.transData,
                          xyB=(d, np.interp(d, bulls_t, bulls_v)), coordsB=ax_aa.transData,
                          color=PINK, lw=1.6, zorder=-1)
    fig.add_artist(con)

# red arrows on the last reading
for ax, t, v in ((ax_aa, bulls_t[-1], bulls_v[-1]), (ax_bb, spread_t[-1], spread_v[-1])):
    ax.annotate('', xy=(t, v), xytext=(0, 39), textcoords='offset points',
                arrowprops=dict(arrowstyle='simple,head_length=2.5,head_width=4.5,tail_width=2.5',
                                mutation_scale=7.2, fc='#d42a2a', ec='none', shrinkA=0, shrinkB=3.5),
                annotation_clip=False)

# texts
fig.text(293 / W, 1 - 85 / H, 'S&P', fontsize=20.5, fontweight='bold', ha='center', va='center')
fig.text(618 / W, 1 - 436 / H, 'Bull-Bear Spread', fontsize=19.5, fontweight='bold',
         ha='center', va='center')
for y, label, c in ((226, 'AAII % Bulls', BLUE), (254, 'AAII % Bears', RED)):
    fig.text(393 / W, 1 - (y + 1) / H, '■', color=c, fontsize=10, family='DejaVu Sans',
             ha='center', va='center')
    fig.text(410 / W, 1 - y / H, label, color=c, fontsize=18, fontweight='bold',
             ha='left', va='center')
fig.text(1228 / W, 1 - 215 / H, '6th highest since\nMarch 2009', color=RED, fontsize=15,
         fontweight='bold', ha='right', va='center', multialignment='right', linespacing=1.1)
fig.text(1305 / W, 1 - 695 / H, '@MacroCharts', color='#1a1a1a', fontsize=12.5,
         fontweight='bold', fontstyle='italic', family='DejaVu Sans', ha='right', va='center')

fig.savefig('out.png', dpi=100)
